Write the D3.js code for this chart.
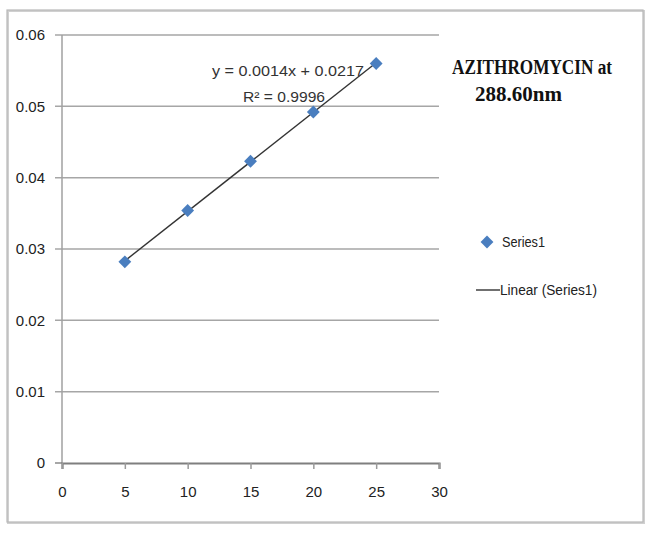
<!DOCTYPE html>
<html><head><meta charset="utf-8">
<script src="https://cdn.jsdelivr.net/npm/d3@7"></script>
<style>body{margin:0;background:#fff}svg{display:block}</style>
</head><body>
<script>
const concentrations = [5, 10, 15, 20, 25];
const absorbances = [0.0282, 0.0354, 0.0423, 0.0492, 0.0560];
const xTicks = [0, 5, 10, 15, 20, 25, 30];
const yTicks = [0, 0.01, 0.02, 0.03, 0.04, 0.05, 0.06];
const yTickLabels = ["0", "0.01", "0.02", "0.03", "0.04", "0.05", "0.06"];
const titleLines = ["AZITHROMYCIN at", "288.60nm"];
const equationLines = ["y = 0.0014x + 0.0217", "R\u00B2 = 0.9996"];
const legendLabels = ["Series1", "Linear (Series1)"];

const W = 646, H = 533;
const svg = d3.select("body").append("svg").attr("width", W).attr("height", H);
const font = "'Liberation Sans', Arial, sans-serif";

// outer frame
svg.append("rect").attr("x", 8).attr("y", 11).attr("width", 636).attr("height", 512)
  .attr("fill", "none").attr("stroke", "#d0d0d0").attr("stroke-width", 2);
svg.append("rect").attr("x", 7).attr("y", 10).attr("width", 636).attr("height", 512)
  .attr("fill", "none").attr("stroke", "#b8b8b8").attr("stroke-width", 1.2);

const x = d3.scaleLinear().domain([0, 30]).range([62, 439]);
const y = d3.scaleLinear().domain([0, 0.06]).range([463, 35]);

// gridlines
svg.append("g").selectAll("line").data(yTicks.filter(d => d > 0)).join("line")
  .attr("x1", x(0) - 7).attr("x2", x(30))
  .attr("y1", d => y(d)).attr("y2", d => y(d))
  .attr("stroke", "#a6a6a6").attr("stroke-width", 1.5);

// y axis line
svg.append("line").attr("x1", x(0)).attr("x2", x(0)).attr("y1", y(0.06)).attr("y2", y(0))
  .attr("stroke", "#a0a0a0").attr("stroke-width", 1.5);
svg.append("line").attr("x1", x(0) - 7).attr("x2", x(0)).attr("y1", y(0)).attr("y2", y(0))
  .attr("stroke", "#8a8a8a").attr("stroke-width", 1.5);

// x axis
const xAxis = d3.axisBottom(x).tickValues(xTicks).tickSize(6).tickPadding(17);
const gx = svg.append("g").attr("transform", `translate(0,${y(0)})`).call(xAxis);
gx.select(".domain").attr("stroke", "#7f7f7f").attr("stroke-width", 2.2);
gx.selectAll(".tick line").attr("stroke", "#9a9a9a").attr("stroke-width", 1.5);
gx.selectAll(".tick text").attr("font-family", font).attr("font-size", 15).attr("fill", "#222");

// y tick labels
svg.append("g").selectAll("text").data(yTicks).join("text")
  .attr("x", 45).attr("y", d => y(d)).attr("dy", "0.35em")
  .attr("text-anchor", "end").attr("font-family", font).attr("font-size", 15).attr("fill", "#222")
  .text((d, i) => yTickLabels[i]);

// trend line (least squares from the data)
const mx = d3.mean(concentrations), my = d3.mean(absorbances);
const slope = d3.sum(concentrations.map((c, i) => (c - mx) * (absorbances[i] - my))) /
  d3.sum(concentrations.map(c => (c - mx) ** 2));
const intercept = my - slope * mx;
const x0 = d3.min(concentrations), x1 = d3.max(concentrations);
svg.append("line").attr("x1", x(x0)).attr("y1", y(intercept + slope * x0))
  .attr("x2", x(x1)).attr("y2", y(intercept + slope * x1))
  .attr("stroke", "#333").attr("stroke-width", 1.4);

// markers
const diamond = d3.symbol().type(d3.symbolDiamond2).size(105);
svg.append("g").selectAll("path").data(concentrations).join("path")
  .attr("d", diamond)
  .attr("transform", (d, i) => `translate(${x(d)},${y(absorbances[i])})`)
  .attr("fill", "#4a7ebf");

// equation
svg.append("text").attr("x", 212).attr("y", 76)
  .attr("font-family", font).attr("font-size", 15).attr("fill", "#333")
  .attr("textLength", 152).attr("lengthAdjust", "spacingAndGlyphs").text(equationLines[0]);
svg.append("text").attr("x", 243).attr("y", 102)
  .attr("font-family", font).attr("font-size", 15).attr("fill", "#333")
  .attr("textLength", 82).attr("lengthAdjust", "spacingAndGlyphs").text(equationLines[1]);

// title
const serif = "'Liberation Serif', 'Times New Roman', serif";
svg.append("text").attr("x", 452).attr("y", 74).attr("font-family", serif)
  .attr("font-weight", "bold").attr("font-size", 20).attr("fill", "#111")
  .attr("textLength", 160).attr("lengthAdjust", "spacingAndGlyphs").text(titleLines[0]);
svg.append("text").attr("x", 475).attr("y", 101).attr("font-family", serif)
  .attr("font-weight", "bold").attr("font-size", 20).attr("fill", "#111")
  .attr("textLength", 87).attr("lengthAdjust", "spacingAndGlyphs").text(titleLines[1]);

// legend
svg.append("path").attr("d", diamond).attr("transform", "translate(487,242)").attr("fill", "#4a7ebf");
svg.append("text").attr("x", 502).attr("y", 242).attr("dy", "0.35em")
  .attr("font-family", font).attr("font-size", 14).attr("fill", "#222")
  .attr("textLength", 43).attr("lengthAdjust", "spacingAndGlyphs").text(legendLabels[0]);
svg.append("line").attr("x1", 476).attr("x2", 500).attr("y1", 290).attr("y2", 290)
  .attr("stroke", "#333").attr("stroke-width", 1.4);
svg.append("text").attr("x", 500).attr("y", 290).attr("dy", "0.35em")
  .attr("font-family", font).attr("font-size", 14).attr("fill", "#222")
  .attr("textLength", 97).attr("lengthAdjust", "spacingAndGlyphs").text(legendLabels[1]);
</script>
</body></html>
